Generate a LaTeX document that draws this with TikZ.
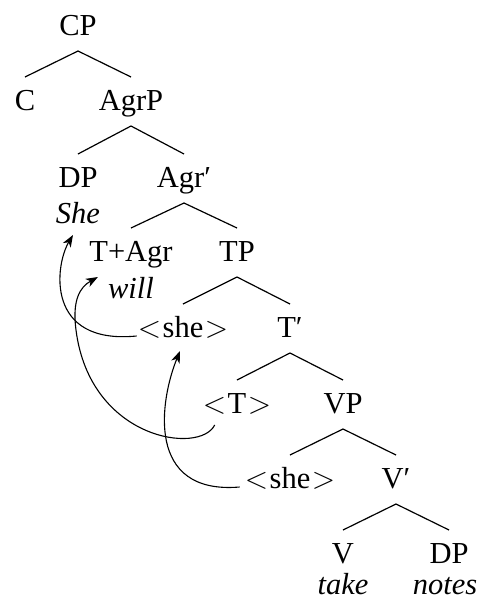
\documentclass[tikz,border=0pt]{standalone}
\usepackage{fontspec}
\setmainfont{Liberation Serif}
\usetikzlibrary{calc,arrows.meta}
\newcommand{\trc}[1]{\scalebox{1.23}{$<$}\kern1.5pt #1\kern1.5pt\scalebox{1.23}{$>$}}
\begin{document}
\begin{tikzpicture}[x=1pt,y=-1pt,
  lbl/.style={anchor=base,inner sep=0pt,font=\fontsize{30.5}{36}\selectfont},
  word/.style={anchor=base,inner sep=0pt,font=\fontsize{30.5}{36}\selectfont\itshape},
  branch/.style={line width=1.2pt},
  move/.style={line width=1.1pt,-{Stealth[length=12pt,width=9pt,inset=3.5pt]}}]
\useasboundingbox (0,0) rectangle (485,600);
\node[lbl] (cp)   at (78,35)  {CP};
\node[lbl] (c)    at (25,110) {C};
\node[lbl] (agrp) at (131,110) {AgrP};
\node[lbl] (dp)   at (78,187) {DP};
\node[word] (she) at (78,223) {She};
\node[lbl] (agrb) at (184,187) {Agr′};
\node[lbl] (tagr) at (131,261) {T+Agr};
\node[word] (will) at (131,298) {will};
\node[lbl] (tp)   at (237,261) {TP};
\node[lbl] (sheA) at (183,337) {\trc{she}};
\node[lbl] (tb)   at (290,337) {T′};
\node[lbl] (tt)   at (237,413) {\trc{T}};
\node[lbl] (vp)   at (343,413) {VP};
\node[lbl] (sheB) at (290,488) {\trc{she}};
\node[lbl] (vb)   at (396,488) {V′};
\node[lbl] (v)    at (343,563) {V};
\node[lbl] (dp2)  at (449,563) {DP};
\node[word] (take) at (343,594) {take};
\node[word] (notes) at (445,594) {notes};
\foreach \p/\c in {cp/c,cp/agrp,agrp/dp,agrp/agrb,agrb/tagr,agrb/tp,tp/sheA,tp/tb,tb/tt,tb/vp,vp/sheB,vp/vb,vb/v,vb/dp2}
  \draw[branch] ($(\p.base)+(0,16)$) -- ($(\c.base)+(0,-33)$);
% movement arrows
\coordinate (a0) at ($(sheA.base west)+(-1,-1)$);
\coordinate (a1) at ($(she.base)+(-5,12)$);
\draw[move] (a0) .. controls (45,345) and (55,265) .. (a1);
\coordinate (b0) at ($(tt.base west)+(12,12)$);
\coordinate (b1) at ($(will.base west)+(-10,-21)$);
\draw[move] (b0) .. controls (200,455) and (90,440) .. (76,330)
  .. controls (72,300) and (80,287) .. (b1);
\coordinate (c0) at ($(sheB.base west)+(-5,-1)$);
\coordinate (c1) at ($(sheA.base)+(-3,14)$);
\draw[move] (c0) .. controls (145,495) and (160,400) .. (c1);
\end{tikzpicture}
\end{document}
